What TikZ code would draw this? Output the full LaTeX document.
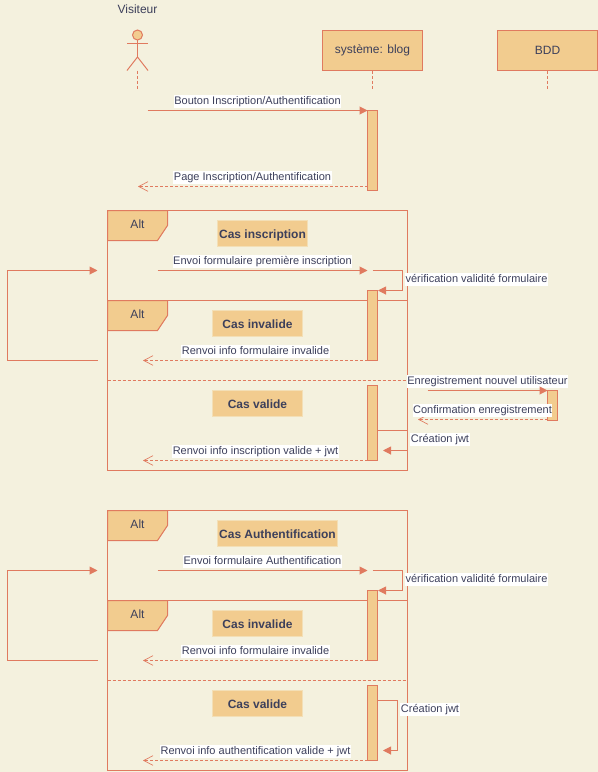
\documentclass[tikz,border=0pt]{standalone}
\usepackage{fontspec}
\setmainfont{Liberation Sans}
\usetikzlibrary{arrows.meta}
\definecolor{bgc}{HTML}{F4F1DE}
\definecolor{strokec}{HTML}{E07A5F}
\definecolor{fillc}{HTML}{F2CC8F}
\definecolor{textc}{HTML}{3D405B}
\tikzset{
  every node/.style={text=textc,inner sep=0pt,outer sep=0pt},
  msg/.style={draw=strokec,line width=.75pt,-{Triangle[length=6pt,width=6pt,fill=strokec]}},
  plainline/.style={draw=strokec,line width=.75pt},
  rtn/.style={draw=strokec,line width=.75pt,dash pattern=on 2.25pt off 1.5pt,-{Straight Barb[length=7pt,width=7pt,line width=.5pt,angle'=55]}},
  life/.style={draw=strokec,line width=.75pt,dash pattern=on 2.25pt off 1.5pt},
  sep/.style={draw=strokec,line width=.75pt,dash pattern=on 2.25pt off 1.5pt},
  lbl/.style={font=\fontsize{8.25}{10}\selectfont,fill=white,inner xsep=.4pt,inner ysep=.6pt,text height=6.4pt,text depth=2.6pt,yshift=-1.1pt},
  box/.style={draw=strokec,fill=fillc,line width=.75pt,minimum width=75pt,minimum height=30pt,font=\fontsize{9}{11}\selectfont},
  act/.style={draw=strokec,fill=fillc,line width=.75pt,minimum width=7.5pt},
  framebox/.style={draw=strokec,line width=.75pt,minimum width=225pt},
  tagbox/.style={draw=strokec,fill=fillc,line width=.75pt},
  altlbl/.style={font=\fontsize{9}{11}\selectfont},
  cas/.style={fill=fillc,draw=fillc!50!bgc,line width=.75pt,minimum height=19.5pt,text height=7.8pt,text depth=1pt,font=\fontsize{9}{11}\selectfont\bfseries},
}
\begin{document}
\begin{tikzpicture}[x=.75pt,y=-.75pt]
\useasboundingbox[fill=bgc] (0,0) rectangle (598,772);

% frames
\node[framebox,minimum height=195pt] (f1) at (257.5,340.5) {};
\node[framebox,minimum height=195pt] (f2) at (257.5,640.5) {};

% participants
\node[font=\fontsize{9}{11}\selectfont] (visitor) at (137.5,9) {Visiteur};
\node[box] (sys) at (372.5,50.5) {système: blog};
\node[box] (bdd) at (547.5,50.5) {BDD};
\coordinate (sysEnd) at (372.5,90);
\coordinate (bddEnd) at (547.5,90);
\draw[life] (sys.south) -- (sysEnd);
\draw[life] (bdd.south) -- (bddEnd);

% actor
\node[circle,draw=strokec,fill=fillc,line width=.75pt,minimum size=7.5pt] (head) at (137.5,35) {};
\coordinate (armL) at (127,43.5);
\coordinate (armR) at (148,43.5);
\coordinate (hip) at (137.5,57);
\coordinate (legL) at (127,70.5);
\coordinate (legR) at (148,70.5);
\coordinate (actS) at (137.5,70.5);
\coordinate (actE) at (137.5,90);
\draw[plainline] (armL) -- (armR);
\draw[plainline] (head.south) -- (hip);
\draw[plainline] (legL) -- (hip) -- (legR);
\draw[life] (actS) -- (actE);

% first exchange
\node[act,minimum height=60pt] (a1) at (372.5,150.5) {};
\coordinate (m1s) at (147.5,110.5);
\coordinate (r1e) at (138,186.5);
\coordinate (r1s) at (367.5,186.5);
\draw[msg] (m1s) -- (a1.north west);
\draw[rtn] (r1s) -- (r1e);
\node[lbl] (l1) at (257.5,100) {Bouton Inscription/Authentification};
\node[lbl] (l2) at (252.5,176) {Page Inscription/Authentification};

% frame 1 tag
\draw[tagbox] (107.5,210.5) -- (167.5,210.5) -- (167.5,225.5) -- (157.5,240.5) -- (107.5,240.5) -- cycle;
\node[altlbl] (alt1) at (137.5,224) {Alt};
\node[cas,minimum width=67.5pt] (c1) at (262.5,233.5) {Cas inscription};

% frame 1 messages
\coordinate (m2s) at (157.5,270.5);
\coordinate (m2e) at (367.5,270.5);
\draw[msg] (m2s) -- (m2e);
\node[lbl] (l3) at (262.5,260) {Envoi formulaire première inscription};

\coordinate (s1a) at (372.5,270.5);
\coordinate (s1b) at (402.5,270.5);
\coordinate (s1c) at (402.5,290.5);
\coordinate (s1d) at (378,290.5);
\draw[msg] (s1a) -- (s1b) -- (s1c) -- (s1d);
\node[lbl] (l4) at (476.5,278) {vérification validité formulaire};

\coordinate (lpA) at (97.5,360.5);
\coordinate (lpB) at (7.5,360.5);
\coordinate (lpC) at (7.5,270.5);
\coordinate (lpD) at (97.5,270.5);
\draw[msg] (lpA) -- (lpB) -- (lpC) -- (lpD);

% inner alt 1
\coordinate (i1L) at (107.5,300.5);
\coordinate (i1R) at (407.5,300.5);
\draw[plainline] (i1L) -- (i1R);
\draw[tagbox] (107.5,300.5) -- (167.5,300.5) -- (167.5,315.5) -- (157.5,330.5) -- (107.5,330.5) -- cycle;
\node[altlbl] (alt2) at (137.5,314) {Alt};
\node[cas,minimum width=67.5pt] (c2) at (257.5,323.5) {Cas invalide};

\node[act,minimum height=52.5pt] (a2) at (372.5,325.5) {};
\coordinate (r2e) at (143,360.5);
\draw[rtn] (a2.south west) -- (r2e);
\node[lbl] (l5) at (255.5,350) {Renvoi info formulaire invalide};

\coordinate (d1L) at (107.5,380.5);
\coordinate (d1R) at (407.5,380.5);
\draw[sep] (d1L) -- (d1R);
\node[cas,minimum width=67.5pt] (c3) at (257.5,403.5) {Cas valide};

\node[lbl] (l6) at (487.5,380) {Enregistrement nouvel utilisateur};
\node[act,minimum height=22.5pt] (a4) at (552.5,405.5) {};
\coordinate (m3s) at (427.5,390.5);
\draw[msg] (m3s) -- (a4.north west);
\coordinate (r3s) at (547.5,419.5);
\coordinate (r3e) at (418,419.5);
\draw[rtn] (r3s) -- (r3e);
\node[lbl] (l7) at (482.5,409) {Confirmation enregistrement};

\node[act,minimum height=56.25pt] (a3) at (372.5,423) {};
\coordinate (j1a) at (377.5,430.5);
\coordinate (j1b) at (407.5,430.5);
\coordinate (j1c) at (407.5,450.5);
\coordinate (j1d) at (383,450.5);
\draw[msg] (j1a) -- (j1b) -- (j1c) -- (j1d);
\node[lbl] (l8) at (440,438) {Création jwt};
\coordinate (r4e) at (143,460.5);
\draw[rtn] (a3.south west) -- (r4e);
\node[lbl] (l9) at (255.5,450) {Renvoi info inscription valide + jwt};

% frame 2 tag
\draw[tagbox] (107.5,510.5) -- (167.5,510.5) -- (167.5,525.5) -- (157.5,540.5) -- (107.5,540.5) -- cycle;
\node[altlbl] (alt3) at (137.5,524) {Alt};
\node[cas,minimum width=90pt] (c4) at (277.5,533.5) {Cas Authentification};

\coordinate (m4s) at (157.5,570.5);
\coordinate (m4e) at (367.5,570.5);
\draw[msg] (m4s) -- (m4e);
\node[lbl] (l10) at (262.5,560) {Envoi formulaire Authentification};

\coordinate (s2a) at (372.5,570.5);
\coordinate (s2b) at (402.5,570.5);
\coordinate (s2c) at (402.5,590.5);
\coordinate (s2d) at (378,590.5);
\draw[msg] (s2a) -- (s2b) -- (s2c) -- (s2d);
\node[lbl] (l11) at (476.5,578) {vérification validité formulaire};

\coordinate (lqA) at (97.5,660.5);
\coordinate (lqB) at (7.5,660.5);
\coordinate (lqC) at (7.5,570.5);
\coordinate (lqD) at (97.5,570.5);
\draw[msg] (lqA) -- (lqB) -- (lqC) -- (lqD);

% inner alt 2
\coordinate (i2L) at (107.5,600.5);
\coordinate (i2R) at (407.5,600.5);
\draw[plainline] (i2L) -- (i2R);
\draw[tagbox] (107.5,600.5) -- (167.5,600.5) -- (167.5,615.5) -- (157.5,630.5) -- (107.5,630.5) -- cycle;
\node[altlbl] (alt4) at (137.5,614) {Alt};
\node[cas,minimum width=67.5pt] (c5) at (257.5,623.5) {Cas invalide};

\node[act,minimum height=52.5pt] (a5) at (372.5,625.5) {};
\coordinate (r5e) at (143,660.5);
\draw[rtn] (a5.south west) -- (r5e);
\node[lbl] (l12) at (255.5,650) {Renvoi info formulaire invalide};

\coordinate (d2L) at (107.5,680.5);
\coordinate (d2R) at (407.5,680.5);
\draw[sep] (d2L) -- (d2R);
\node[cas,minimum width=67.5pt] (c6) at (257.5,703.5) {Cas valide};

\node[act,minimum height=56.25pt] (a6) at (372.5,723) {};
\coordinate (j2a) at (377.5,700.5);
\coordinate (j2b) at (397.5,700.5);
\coordinate (j2c) at (397.5,750.5);
\coordinate (j2d) at (383,750.5);
\draw[msg] (j2a) -- (j2b) -- (j2c) -- (j2d);
\node[lbl] (l13) at (430,708) {Création jwt};
\coordinate (r6e) at (143,760.5);
\draw[rtn] (a6.south west) -- (r6e);
\node[lbl] (l14) at (255.5,750) {Renvoi info authentification valide + jwt};
\end{tikzpicture}
\end{document}
